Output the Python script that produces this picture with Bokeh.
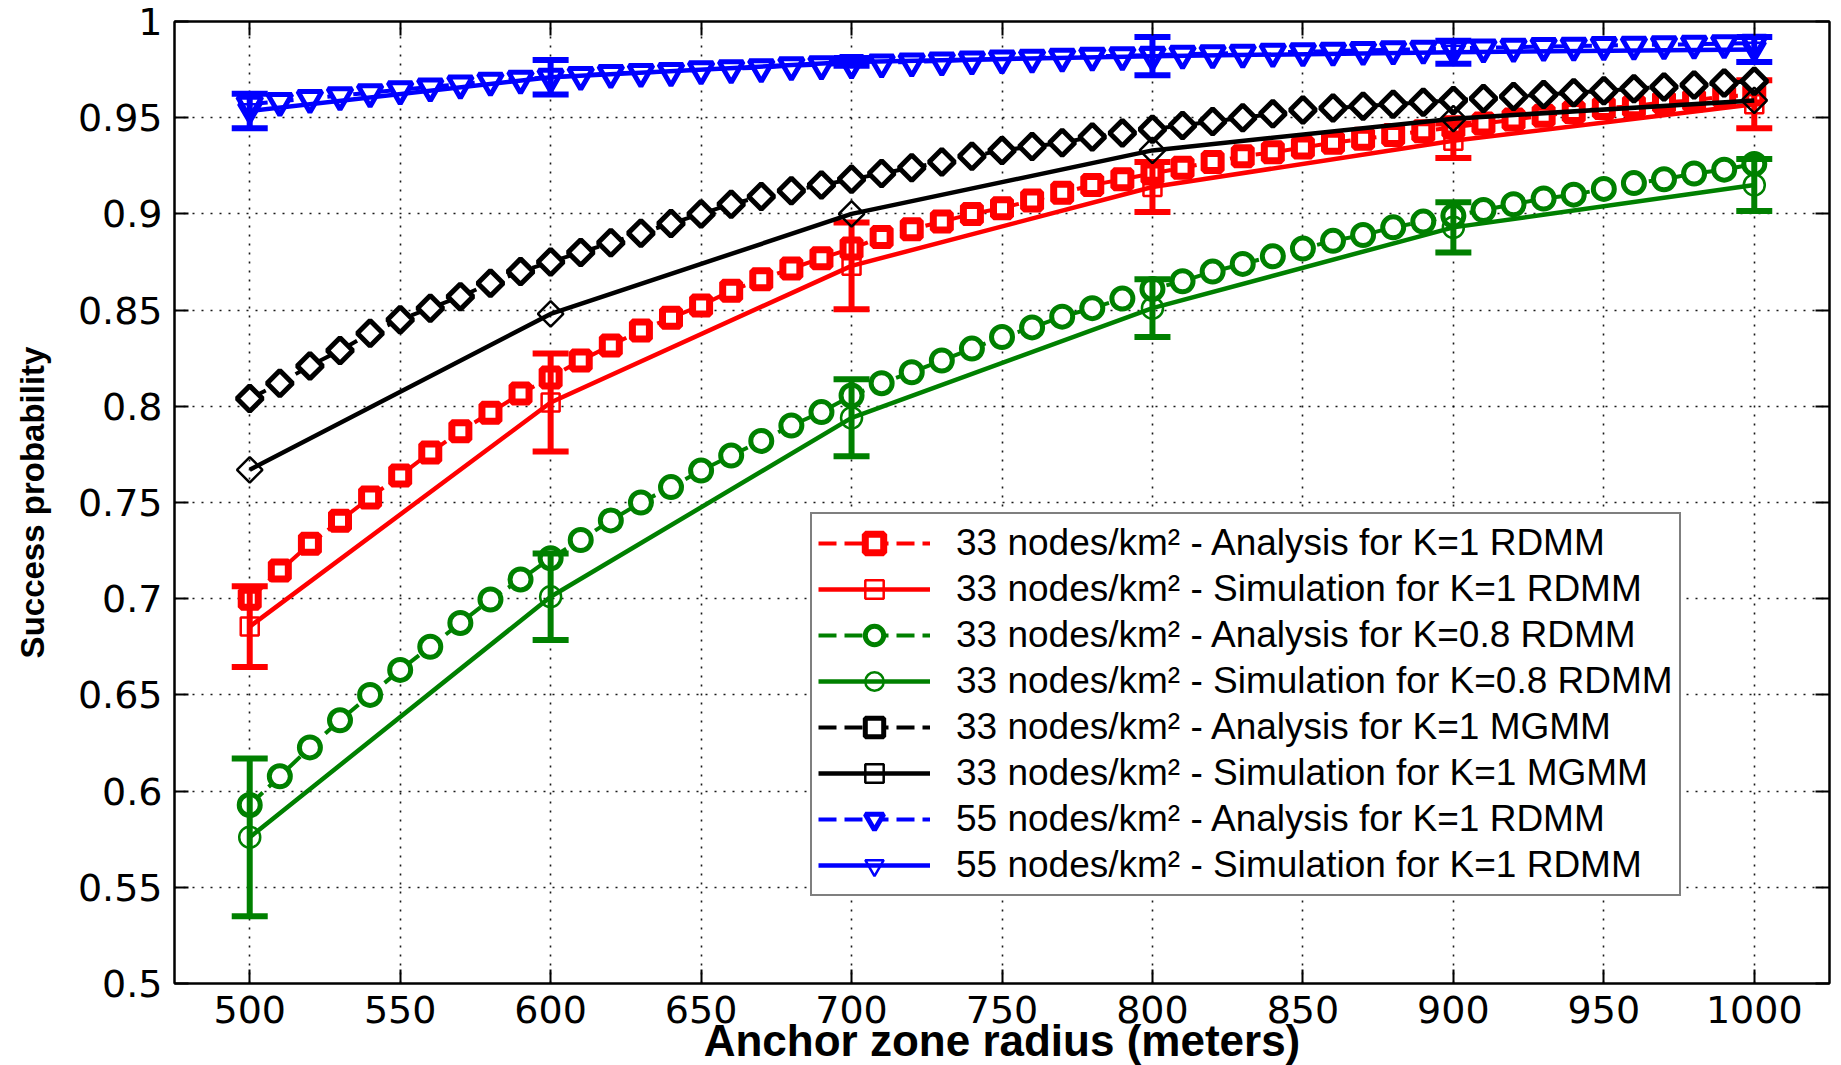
import numpy as np
from bokeh.plotting import figure
from bokeh.models import Legend, LegendItem, LinearAxis, FixedTicker, Range1d
from bokeh.embed import file_html
from bokeh.resources import INLINE

# ---------------- data ----------------
x_analysis = list(range(500, 1001, 10))
x_sim = [500, 600, 700, 800, 900, 1000]

red_analysis = [0.700, 0.7146, 0.7285, 0.7405, 0.7526, 0.764, 0.776, 0.787, 0.7967, 0.8066,
                0.815, 0.8238, 0.8316, 0.8394, 0.846, 0.8524, 0.860, 0.866, 0.8716, 0.877,
                0.882, 0.888, 0.892, 0.896, 0.900, 0.903, 0.907, 0.911, 0.915, 0.918,
                0.921, 0.924, 0.927, 0.930, 0.932, 0.9345, 0.937, 0.939, 0.941, 0.943,
                0.945, 0.947, 0.949, 0.951, 0.953, 0.955, 0.956, 0.958, 0.959, 0.961, 0.962]
red_sim = [0.6855, 0.802, 0.873, 0.914, 0.938, 0.957]
red_err = [0.021, 0.0255, 0.0225, 0.013, 0.009, 0.0125]

green_analysis = [0.5928, 0.6077, 0.6227, 0.6368, 0.650, 0.663, 0.675, 0.6874, 0.6996, 0.710,
                  0.721, 0.7305, 0.7407, 0.750, 0.758, 0.7666, 0.7744, 0.782, 0.790, 0.797,
                  0.8056, 0.812, 0.8177, 0.8238, 0.830, 0.836, 0.841, 0.8466, 0.851, 0.856,
                  0.861, 0.865, 0.870, 0.874, 0.878, 0.882, 0.886, 0.889, 0.893, 0.896,
                  0.899, 0.902, 0.905, 0.908, 0.910, 0.913, 0.916, 0.918, 0.921, 0.923, 0.926]
green_sim = [0.576, 0.701, 0.794, 0.851, 0.893, 0.915]
green_err = [0.041, 0.0225, 0.020, 0.015, 0.013, 0.0135]

black_analysis = [0.804, 0.812, 0.821, 0.829, 0.838, 0.845, 0.851, 0.857, 0.864, 0.870,
                  0.875, 0.880, 0.885, 0.890, 0.895, 0.900, 0.905, 0.909, 0.912, 0.915,
                  0.918, 0.921, 0.924, 0.927, 0.930, 0.933, 0.935, 0.937, 0.940, 0.942,
                  0.944, 0.946, 0.948, 0.950, 0.952, 0.954, 0.955, 0.956, 0.957, 0.958,
                  0.959, 0.960, 0.961, 0.962, 0.963, 0.964, 0.965, 0.966, 0.967, 0.968, 0.969]
black_sim = [0.767, 0.848, 0.900, 0.933, 0.9495, 0.959]

blue_analysis = [0.957, 0.9585, 0.960, 0.9615, 0.963, 0.9645, 0.966, 0.9675, 0.969, 0.970,
                 0.971, 0.972, 0.973, 0.9735, 0.974, 0.975, 0.9755, 0.976, 0.977, 0.9775,
                 0.978, 0.9785, 0.979, 0.9795, 0.980, 0.9805, 0.981, 0.9815, 0.982, 0.9822,
                 0.9825, 0.983, 0.9833, 0.9836, 0.984, 0.9843, 0.9846, 0.985, 0.9853, 0.9856,
                 0.986, 0.9863, 0.9866, 0.987, 0.9872, 0.9875, 0.9877, 0.988, 0.9882, 0.9885, 0.9887]
blue_sim = [0.9535, 0.971, 0.979, 0.982, 0.984, 0.9855]
blue_err = [0.009, 0.009, 0.002, 0.010, 0.006, 0.0065]

x_ticks = [500, 550, 600, 650, 700, 750, 800, 850, 900, 950, 1000]
y_ticks = [0.5, 0.55, 0.6, 0.65, 0.7, 0.75, 0.8, 0.85, 0.9, 0.95, 1.0]
y_tick_labels = ["0.5", "0.55", "0.6", "0.65", "0.7", "0.75", "0.8", "0.85", "0.9", "0.95", "1"]

labels = [
    "33 nodes/km\u00b2 - Analysis for K=1 RDMM",
    "33 nodes/km\u00b2 - Simulation for K=1 RDMM",
    "33 nodes/km\u00b2 - Analysis for K=0.8 RDMM",
    "33 nodes/km\u00b2 - Simulation for K=0.8 RDMM",
    "33 nodes/km\u00b2 - Analysis for K=1 MGMM",
    "33 nodes/km\u00b2 - Simulation for K=1 MGMM",
    "55 nodes/km\u00b2 - Analysis for K=1 RDMM",
    "55 nodes/km\u00b2 - Simulation for K=1 RDMM",
]

RED, GREEN, BLACK, BLUE = "#ff0000", "#008000", "#000000", "#0000ff"

# ---------------- figure ----------------
p = figure(frame_width=1655, frame_height=962,
           x_range=Range1d(475, 1025), y_range=Range1d(0.5, 1.0),
           output_backend="svg", toolbar_location=None,
           min_border_left=174, min_border_right=12, min_border_top=21, min_border_bottom=82,
           background_fill_color="white", border_fill_color="white")
p.outline_line_color = "black"
p.outline_line_width = 2

TICK_FONT = "DejaVu Sans"
for ax in p.xaxis + p.yaxis:
    ax.major_tick_in = 14
    ax.major_tick_out = 0
    ax.minor_tick_line_color = None
    ax.axis_line_width = 2
    ax.major_tick_line_width = 2
    ax.major_label_text_font = TICK_FONT
    ax.major_label_text_font_size = "38px"
    ax.major_label_text_color = "black"
    ax.major_label_standoff = 12
    ax.axis_label_text_color = "black"
    ax.axis_label_text_font = "Liberation Sans"
    ax.axis_label_text_font_style = "bold"

p.xaxis.ticker = FixedTicker(ticks=x_ticks)
p.yaxis.ticker = FixedTicker(ticks=y_ticks)
p.yaxis.major_label_overrides = {v: s for v, s in zip(y_ticks, y_tick_labels)}
p.xaxis.major_label_overrides = {v: str(v) for v in x_ticks}

p.yaxis.axis_label = "Success probability"
p.yaxis.axis_label_text_font_size = "33px"
p.yaxis.axis_label_standoff = 24

p.xaxis.axis_label = "Anchor zone radius (meters)"
p.xaxis.axis_label_text_font_size = "44px"
p.xaxis.axis_label_standoff = -10

# top / right axes with inward ticks, no labels
top = LinearAxis(ticker=FixedTicker(ticks=x_ticks), major_tick_in=14, major_tick_out=0,
                 minor_tick_line_color=None, axis_line_width=2, major_tick_line_width=2,
                 major_label_text_font_size="1px", major_label_text_alpha=0, major_label_standoff=0)
right = LinearAxis(ticker=FixedTicker(ticks=y_ticks), major_tick_in=14, major_tick_out=0,
                   minor_tick_line_color=None, axis_line_width=2, major_tick_line_width=2,
                   major_label_text_font_size="1px", major_label_text_alpha=0, major_label_standoff=0)
p.add_layout(top, "above")
p.add_layout(right, "right")

for g in (p.xgrid, p.ygrid):
    g.grid_line_color = "black"
    g.grid_line_dash = "2 7"
    g.grid_line_width = 1.6
    g.grid_line_alpha = 0.9
p.xgrid.ticker = FixedTicker(ticks=x_ticks)
p.ygrid.ticker = FixedTicker(ticks=y_ticks)


def analysis(y, color, marker, size, lw, angle=0.0):
    ln = p.line(x_analysis, y, line_color=color, line_width=4, line_dash="18 8")
    sc = p.scatter(x_analysis, y, marker=marker, size=size, angle=angle,
                   line_color=color, line_width=lw, fill_color="white")
    return [ln, sc]


def simulation(y, err, color, marker, size, angle=0.0):
    ln = p.line(x_sim, y, line_color=color, line_width=4.5)
    if err is not None:
        yv = np.array(y)
        ev = np.array(err)
        p.segment(x0=x_sim, y0=yv - ev, x1=x_sim, y1=yv + ev, line_color=color, line_width=6)
        p.scatter(x_sim, yv - ev, marker="dash", size=36, line_color=color, line_width=6)
        p.scatter(x_sim, yv + ev, marker="dash", size=36, line_color=color, line_width=6)
    sc = p.scatter(x_sim, y, marker=marker, size=size, angle=angle,
                   line_color=color, line_width=2.5, fill_color=None)
    return [ln, sc]


r1 = analysis(red_analysis, RED, "square", 17, 7)
r2 = simulation(red_sim, red_err, RED, "square", 18)
r3 = analysis(green_analysis, GREEN, "circle", 21, 5)
r4 = simulation(green_sim, green_err, GREEN, "circle", 21)
r5 = analysis(black_analysis, BLACK, "square", 18, 5, angle=np.pi / 4)
r6 = simulation(black_sim, None, BLACK, "square", 18, angle=np.pi / 4)
r7 = analysis(blue_analysis, BLUE, "inverted_triangle", 24, 5)
r8 = simulation(blue_sim, blue_err, BLUE, "inverted_triangle", 23)

items = [LegendItem(label=lab, renderers=rs) for lab, rs in
         zip(labels, [r1, r2, r3, r4, r5, r6, r7, r8])]
legend = Legend(items=items, location=(636, 87), glyph_width=112, glyph_height=46,
                label_height=46, spacing=0, padding=6, label_standoff=26, margin=0,
                label_text_font="Liberation Sans", label_text_font_size="37px",
                label_text_color="black",
                border_line_color="black", border_line_width=2,
                background_fill_color="white", background_fill_alpha=1.0)
p.add_layout(legend, "center")

open("out.html", "w").write(file_html(p, INLINE))
